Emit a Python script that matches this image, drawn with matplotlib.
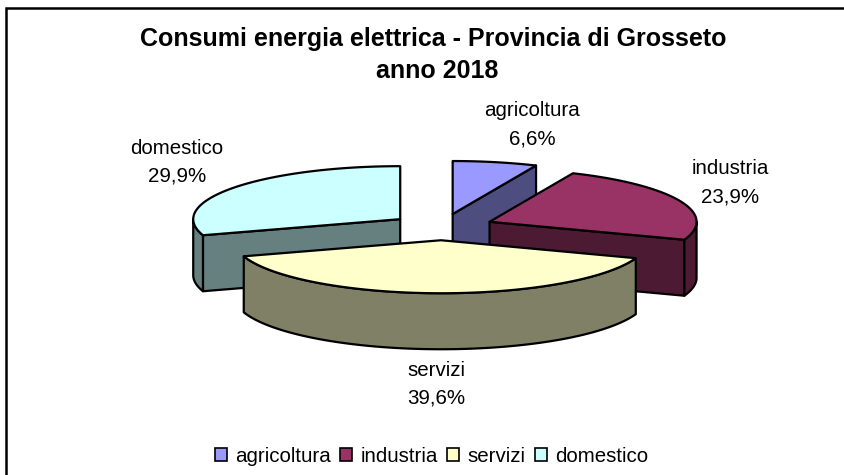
import numpy as np
import matplotlib
matplotlib.use('Agg')
import matplotlib.pyplot as plt
from matplotlib.patches import Patch, Polygon, Rectangle

plt.rcParams['font.family'] = ['Liberation Sans', 'DejaVu Sans']

categories = ['agricoltura', 'industria', 'servizi', 'domestico']
values = [6.6, 23.9, 39.6, 29.9]
top_colors = ['#9999FF', '#993366', '#FFFFCC', '#CCFFFF']
side_colors = ['#4D4D80', '#4D1A33', '#808066', '#668080']
label_pos = [(532, 125), (730, 183), (436, 384), (177, 162)]

# pie geometry in pixels
cx, cy = 442, 227
rx, ry = 207, 53
depth = 56
explode = 0.25


def rim_point(apex, theta):
    return apex[0] + rx * np.sin(theta), apex[1] - ry * np.cos(theta)


def draw_poly(ax, pts, color, z):
    ax.add_patch(Polygon(pts, closed=True, facecolor=color, edgecolor='black',
                         linewidth=1.6, joinstyle='round', zorder=z))


fig = plt.figure(figsize=(8.45, 4.75), dpi=100)
ax = fig.add_axes([0, 0, 1, 1])
ax.set_xlim(0, 845)
ax.set_ylim(475, 0)
ax.axis('off')

# chart frame, runs off the picture on the right and at the bottom
ax.add_patch(Rectangle((6, 8), 900, 520, facecolor='white', edgecolor='black', linewidth=1.8))

edges = np.cumsum([0] + values) / sum(values) * 2 * np.pi
mids = (edges[:-1] + edges[1:]) / 2

# back slices first
order = sorted(range(len(values)), key=lambda k: -np.cos(mids[k]))
z = 2
for i in order:
    a0, a1 = edges[i], edges[i + 1]
    apex = (cx + explode * rx * np.sin(mids[i]), cy - explode * ry * np.cos(mids[i]))
    base = (apex[0], apex[1] + depth)

    # radial faces turned to the viewer
    if np.sin(a1) > 1e-6:
        p = rim_point(apex, a1)
        draw_poly(ax, [apex, p, (p[0], p[1] + depth), base], side_colors[i], z)
    if np.sin(a0) < -1e-6:
        p = rim_point(apex, a0)
        draw_poly(ax, [apex, p, (p[0], p[1] + depth), base], side_colors[i], z)

    # outer rim, front half only
    lo, hi = max(a0, np.pi / 2), min(a1, 3 * np.pi / 2)
    if hi > lo:
        t = np.linspace(lo, hi, 80)
        upper = [rim_point(apex, v) for v in t]
        lower = [(x, y + depth) for x, y in upper[::-1]]
        draw_poly(ax, upper + lower, side_colors[i], z)

    t = np.linspace(a0, a1, 120)
    draw_poly(ax, [apex] + [rim_point(apex, v) for v in t], top_colors[i], z + 0.5)
    z += 1

ax.text(433.5, 39, 'Consumi energia elettrica - Provincia di Grosseto', ha='center', va='center',
        fontsize=18, fontweight='bold', zorder=20)
ax.text(437, 71, 'anno 2018', ha='center', va='center', fontsize=18, fontweight='bold', zorder=20)

for name, val, pos in zip(categories, values, label_pos):
    pct = f'{val:.1f}'.replace('.', ',') + '%'
    ax.text(pos[0], pos[1], f'{name}\n{pct}', ha='center', va='center', fontsize=14.8,
            linespacing=1.6, zorder=20)

handles = [Patch(facecolor=c, edgecolor='black', linewidth=1.2) for c in top_colors]
ax.legend(handles, categories, loc='center', bbox_to_anchor=(431.5 / 845, 1 - 456 / 475), ncol=4,
          frameon=False, fontsize=14.8, handlelength=0.6, handleheight=0.6,
          handletextpad=0.4, columnspacing=0.44, borderpad=0)

fig.savefig('out.png', dpi=100)
